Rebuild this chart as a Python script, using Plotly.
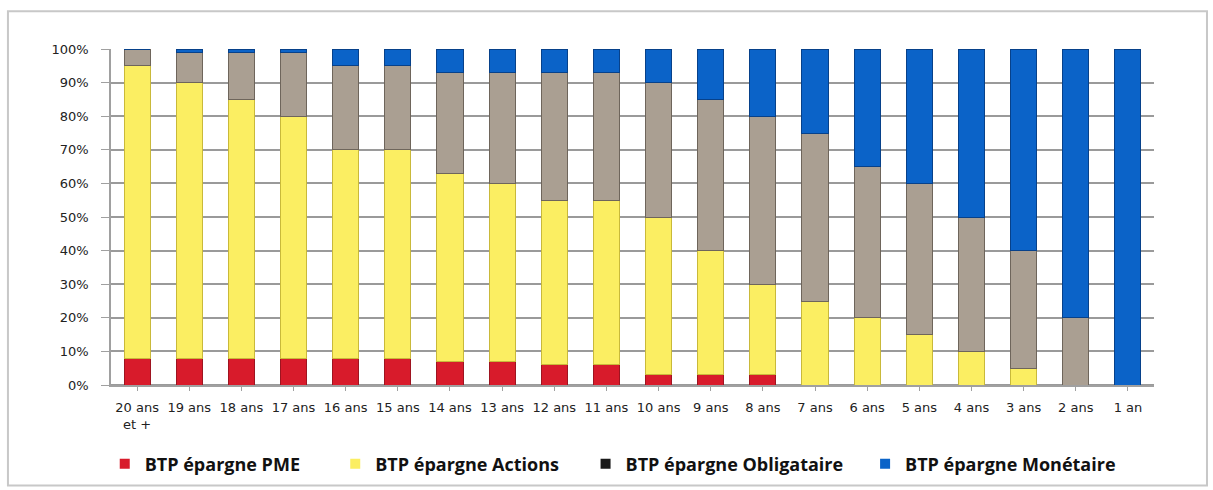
import plotly.graph_objects as go

categories = ["20 ans<br>et +", "19 ans", "18 ans", "17 ans", "16 ans", "15 ans", "14 ans",
              "13 ans", "12 ans", "11 ans", "10 ans", "9 ans", "8 ans", "7 ans", "6 ans",
              "5 ans", "4 ans", "3 ans", "2 ans", "1 an"]
pme =         [8, 8, 8, 8, 8, 8, 7, 7, 6, 6, 3, 3, 3, 0, 0, 0, 0, 0, 0, 0]
actions =     [87, 82, 77, 72, 62, 62, 56, 53, 49, 49, 47, 37, 27, 25, 20, 15, 10, 5, 0, 0]
obligataire = [5, 9, 14, 19, 25, 25, 30, 33, 38, 38, 40, 45, 50, 50, 45, 45, 40, 35, 20, 0]
monetaire =   [0, 1, 1, 1, 5, 5, 7, 7, 7, 7, 10, 15, 20, 25, 35, 40, 50, 60, 80, 100]

names = ["BTP épargne PME", "BTP épargne Actions", "BTP épargne Obligataire", "BTP épargne Monétaire"]
values = [pme, actions, obligataire, monetaire]
colors = ["#d81b2b", "#fbee62", "#aa9f92", "#0b63c8"]
edges = ["#9e1420", "#c9b93a", "#6e655b", "#07418a"]
legend_colors = ["#d81b2b", "#fbee62", "#1a1a1a", "#0b63c8"]
legend_x = [-0.006, 0.215, 0.455, 0.723]

fig = go.Figure()
for name, vals, col, edge in zip(names, values, colors, edges):
    fig.add_trace(go.Bar(
        x=categories, y=[v / 100 for v in vals], name=name, showlegend=False,
        marker=dict(color=col, line=dict(color=edge, width=1)),
    ))

legend_ids = ["legend", "legend2", "legend3", "legend4"]
for i, (name, lc) in enumerate(zip(names, legend_colors)):
    fig.add_trace(go.Scatter(
        x=[None], y=[None], mode="markers", name=name, legend=legend_ids[i],
        marker=dict(symbol="square", size=10, color=lc),
    ))

legend_common = dict(
    orientation="h", xanchor="left", y=-0.235, yanchor="middle", yref="paper",
    font=dict(family="Open Sans", size=18, color="#111111", weight="bold"),
    bgcolor="rgba(0,0,0,0)", borderwidth=0,
)
layout_legends = {}
for i, lid in enumerate(legend_ids):
    layout_legends[lid] = dict(legend_common, x=legend_x[i])

fig.update_layout(
    barmode="stack",
    bargap=0.5,
    width=1213, height=490,
    margin=dict(l=111, r=59, t=49, b=105, autoexpand=False),
    paper_bgcolor="white",
    plot_bgcolor="white",
    font=dict(family="DejaVu Sans", color="#333333"),
    showlegend=True,
    shapes=[dict(type="rect", xref="paper", yref="paper",
                 x0=-0.0988, x1=1.0508, y0=-0.2988, y1=1.1124,
                 line=dict(color="#c8c8c8", width=2), fillcolor="rgba(0,0,0,0)",
                 layer="below")],
    **layout_legends,
)
fig.update_yaxes(
    range=[0, 1.0], tickformat=".0%", dtick=0.1,
    showgrid=True, gridcolor="#9a9a9a", gridwidth=1.5,
    showline=True, linecolor="#a0a0a0", linewidth=1.5,
    ticks="outside", ticklen=8, tickcolor="#a0a0a0",
    ticklabelstandoff=10,
    tickfont=dict(size=13, family="DejaVu Sans", color="#222222"),
    zeroline=True, zerolinecolor="#9a9a9a",
)
fig.update_xaxes(
    showline=True, linecolor="#a0a0a0", linewidth=1.5,
    ticks="outside", ticklen=4, tickcolor="#a0a0a0",
    ticklabelstandoff=6,
    tickfont=dict(size=13, family="DejaVu Sans", color="#222222"),
    tickangle=0,
)

fig.write_html("out.html", config={"displayModeBar": False},
               post_script="document.body.style.margin='0';")
